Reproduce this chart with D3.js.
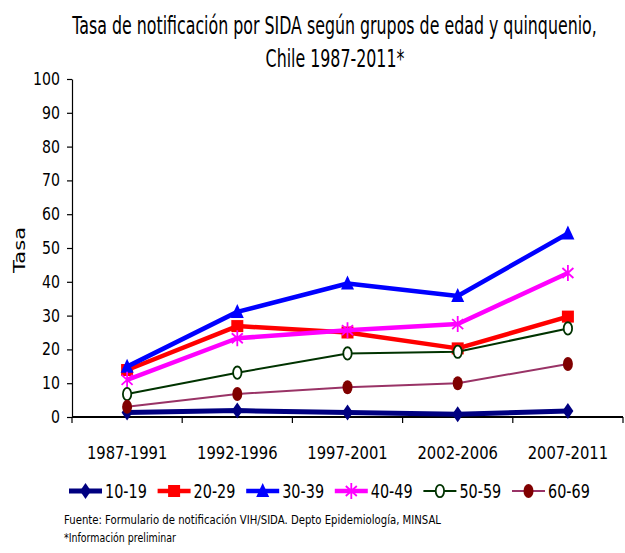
<!DOCTYPE html>
<html>
<head>
<meta charset="utf-8">
<script src="https://cdn.jsdelivr.net/npm/d3@7"></script>
<style>
  html, body { margin: 0; padding: 0; background: #fff; }
  svg { display: block; }
  text { font-family: "DejaVu Sans", Verdana, sans-serif; }
</style>
</head>
<body>
<svg id="chart" width="625" height="553"></svg>
<script>
// Periods (quinquenios)
const periods = ["1987-1991", "1992-1996", "1997-2001", "2002-2006", "2007-2011"];

// Age groups
const groups = ["10-19", "20-29", "30-39", "40-49", "50-59", "60-69"];

// Notification rate per age group, one value per period
const rate1019 = [1.3, 1.9, 1.3, 0.8, 1.8];
const rate2029 = [13.9, 26.9, 25.0, 20.3, 29.7];
const rate3039 = [14.9, 31.1, 39.5, 35.8, 54.3];
const rate4049 = [11.0, 23.3, 25.7, 27.5, 42.6];
const rate5059 = [6.8, 13.1, 18.8, 19.3, 26.2];
const rate6069 = [3.0, 6.8, 8.8, 10.0, 15.7];

const yTicks = [0, 10, 20, 30, 40, 50, 60, 70, 80, 90, 100];

const rates = [rate1019, rate2029, rate3039, rate4049, rate5059, rate6069];

// Visual style of each series
const styles = [
  { line: "#000080", width: 5,   marker: "diamond",  fill: "#000080", stroke: "none" },
  { line: "#FF0000", width: 4.5, marker: "square",   fill: "#FF0000", stroke: "none" },
  { line: "#0000FF", width: 4.5, marker: "triangle", fill: "#0000FF", stroke: "none" },
  { line: "#FF00FF", width: 4.5, marker: "star",     fill: "none",    stroke: "#FF00FF" },
  { line: "#003300", width: 2,   marker: "ring",     fill: "#FFFFFF", stroke: "#003300" },
  { line: "#993366", width: 2,   marker: "dot",      fill: "#800000", stroke: "none" }
];

// Narrow the text horizontally (condensed look) by a ratio of its natural width
function condense(sel, ratio) {
  sel.each(function () {
    const w = this.getComputedTextLength();
    d3.select(this).attr("textLength", w * ratio).attr("lengthAdjust", "spacingAndGlyphs");
  });
}

const svg = d3.select("#chart");

const x = d3.scaleBand().domain(periods).range([72, 623]).padding(0);
const y = d3.scaleLinear().domain([0, 100]).range([417, 79]);

// Title: two centred lines, squeezed horizontally to a condensed width
const titleLines = [
  { text: "Tasa de notificación por SIDA según grupos de edad y quinquenio,", cx: 334.5, base: 34 },
  { text: "Chile 1987-2011*", cx: 335, base: 67 }
];
const titleG = titleLines.map(l => svg.append("g")
  .attr("transform", `translate(${l.cx},${l.base})`));
const titleT = titleLines.map((l, i) => titleG[i].append("text")
  .attr("font-size", 25).attr("text-anchor", "middle").attr("fill", "#000")
  .text(l.text));
const titleRatio = 525 / titleT[0].node().getComputedTextLength();
titleG.forEach((g, i) => g.attr("transform",
  `translate(${titleLines[i].cx},${titleLines[i].base}) scale(${titleRatio},1)`));

// Y axis
const yAxis = svg.append("g")
  .attr("transform", "translate(72,0)")
  .call(d3.axisLeft(y).tickValues(yTicks).tickSize(5).tickSizeOuter(0).tickPadding(7));
yAxis.selectAll("text").attr("font-size", 17).attr("fill", "#000").attr("font-family", null);
yAxis.selectAll("line, path").attr("stroke", "#000").attr("stroke-width", 1.2);
condense(yAxis.selectAll("text"), 0.83);

// Y axis title
svg.append("text")
  .attr("transform", "translate(25,250) rotate(-90)")
  .attr("text-anchor", "middle")
  .attr("font-size", 16)
  .attr("textLength", 46).attr("lengthAdjust", "spacingAndGlyphs")
  .text("Tasa");

// X axis: labels centred on each period, tick marks between periods
const xAxis = svg.append("g")
  .attr("transform", "translate(0,417)")
  .call(d3.axisBottom(x).tickSize(0).tickPadding(29));
xAxis.select(".domain").remove();
xAxis.selectAll("text").attr("font-size", 18).attr("fill", "#000").attr("font-family", null);
condense(xAxis.selectAll("text"), 0.82);
xAxis.append("line")
  .attr("x1", x.range()[0]).attr("x2", x.range()[1])
  .attr("stroke", "#000").attr("stroke-width", 2);
const bounds = [x.range()[0]].concat(periods.map(p => x(p) + x.bandwidth()));
xAxis.selectAll(".sep").data(bounds).enter().append("line")
  .attr("class", "sep")
  .attr("x1", d => d).attr("x2", d => d)
  .attr("y1", 0).attr("y2", 6)
  .attr("stroke", "#000").attr("stroke-width", 1.2);

// Marker shapes
function drawMarker(g, kind, st) {
  if (kind === "diamond") {
    g.append("path").attr("d", "M0,-8L5.5,0L0,8L-5.5,0Z").attr("fill", st.fill);
  } else if (kind === "square") {
    g.append("rect").attr("x", -6).attr("y", -6).attr("width", 12).attr("height", 12).attr("fill", st.fill);
  } else if (kind === "triangle") {
    g.append("path").attr("d", "M0,-8L6.5,6L-6.5,6Z").attr("fill", st.fill);
  } else if (kind === "star") {
    g.append("path").attr("d", "M0,-8L0,8M-5.5,-5L5.5,5M-5.5,5L5.5,-5")
      .attr("stroke", st.stroke).attr("stroke-width", 1.8).attr("fill", "none");
  } else if (kind === "ring") {
    g.append("ellipse").attr("rx", 4.2).attr("ry", 6.2)
      .attr("fill", st.fill).attr("stroke", st.stroke).attr("stroke-width", 1.8);
  } else if (kind === "dot") {
    g.append("ellipse").attr("rx", 5).attr("ry", 7).attr("fill", st.fill);
  }
}

const line = d3.line()
  .x((d, i) => x(periods[i]) + x.bandwidth() / 2)
  .y(d => y(d));

// Series lines and markers
const plot = svg.append("g");
rates.forEach((vals, k) => {
  const st = styles[k];
  const sg = plot.append("g");
  sg.append("path").datum(vals)
    .attr("d", line)
    .attr("fill", "none")
    .attr("stroke", st.line)
    .attr("stroke-width", st.width)
    .attr("stroke-linejoin", "round");
  vals.forEach((v, i) => {
    const mg = sg.append("g")
      .attr("transform", `translate(${x(periods[i]) + x.bandwidth() / 2},${y(v)})`);
    drawMarker(mg, st.marker, st);
  });
});

// Legend
const legend = svg.append("g").attr("transform", "translate(69,491)");
groups.forEach((name, k) => {
  const st = styles[k];
  const item = legend.append("g").attr("transform", `translate(${k * 88.6},0)`);
  item.append("line").attr("x1", 0).attr("x2", 33).attr("y1", 0).attr("y2", 0)
    .attr("stroke", st.line).attr("stroke-width", st.width);
  drawMarker(item.append("g").attr("transform", "translate(16.5,0)"), st.marker, st);
  const lt = item.append("text")
    .attr("x", 36).attr("y", 0).attr("dy", "0.36em")
    .attr("font-size", 20).attr("fill", "#000")
    .text(name);
  condense(lt, 0.72);
});

// Source notes
const notes = svg.append("g").attr("font-size", 12.5).attr("fill", "#000");
notes.append("text").attr("x", 64).attr("y", 524)
  .attr("textLength", 377).attr("lengthAdjust", "spacingAndGlyphs")
  .text("Fuente: Formulario de notificación VIH/SIDA. Depto Epidemiología, MINSAL");
notes.append("text").attr("x", 64).attr("y", 542)
  .attr("textLength", 112).attr("lengthAdjust", "spacingAndGlyphs")
  .text("*Información preliminar");
</script>
</body>
</html>
